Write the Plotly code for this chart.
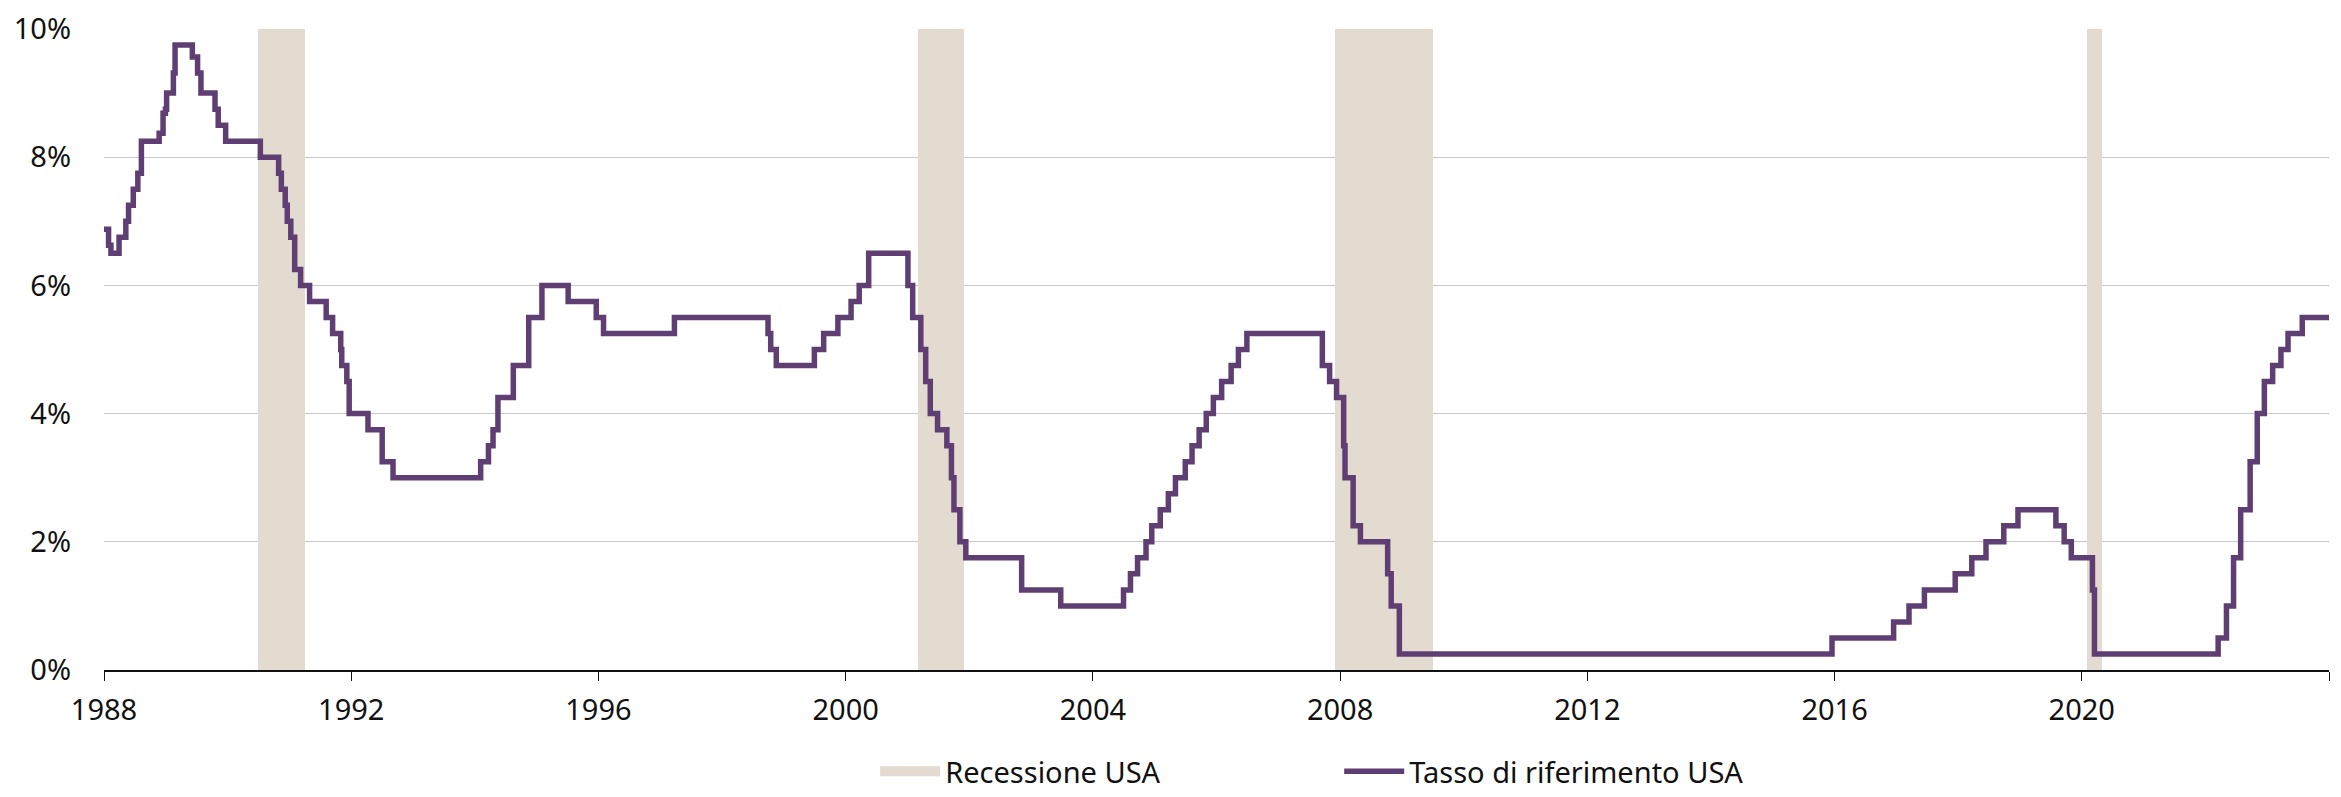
import plotly.graph_objects as go
import pandas as pd

# US policy rate (target, upper bound after 2008), step changes
rate_dates = [
    "1988-01-01", "1988-01-28", "1988-02-11", "1988-03-30", "1988-05-09", "1988-05-25",
    "1988-06-22", "1988-07-19", "1988-08-09", "1988-10-20", "1988-11-22", "1988-12-15",
    "1988-12-29", "1989-01-05", "1989-02-14", "1989-02-24", "1989-06-06", "1989-07-07",
    "1989-07-27", "1989-10-18", "1989-11-06", "1989-12-20", "1990-07-13", "1990-10-29",
    "1990-11-14", "1990-12-07", "1990-12-19", "1991-01-09", "1991-02-01", "1991-03-08",
    "1991-04-30", "1991-08-06", "1991-09-13", "1991-10-31", "1991-11-06", "1991-12-06",
    "1991-12-20", "1992-04-09", "1992-07-02", "1992-09-04", "1994-02-04", "1994-03-22",
    "1994-04-18", "1994-05-17", "1994-08-16", "1994-11-15", "1995-02-01", "1995-07-06",
    "1995-12-19", "1996-01-31", "1997-03-25", "1998-09-29", "1998-10-15", "1998-11-17",
    "1999-06-30", "1999-08-24", "1999-11-16", "2000-02-02", "2000-03-21", "2000-05-16",
    "2001-01-03", "2001-01-31", "2001-03-20", "2001-04-18", "2001-05-15", "2001-06-27",
    "2001-08-21", "2001-09-17", "2001-10-02", "2001-11-06", "2001-12-11", "2002-11-06",
    "2003-06-25", "2004-06-30", "2004-08-10", "2004-09-21", "2004-11-10", "2004-12-14",
    "2005-02-02", "2005-03-22", "2005-05-03", "2005-06-30", "2005-08-09", "2005-09-20",
    "2005-11-01", "2005-12-13", "2006-01-31", "2006-03-28", "2006-05-10", "2006-06-29",
    "2007-09-18", "2007-10-31", "2007-12-11", "2008-01-22", "2008-01-30", "2008-03-18",
    "2008-04-30", "2008-10-08", "2008-10-29", "2008-12-16", "2015-12-17", "2016-12-15",
    "2017-03-16", "2017-06-15", "2017-12-14", "2018-03-22", "2018-06-14", "2018-09-27",
    "2018-12-20", "2019-08-01", "2019-09-19", "2019-10-31", "2020-03-04", "2020-03-16",
    "2022-03-17", "2022-05-05", "2022-06-16", "2022-07-28", "2022-09-22", "2022-11-03",
    "2022-12-15", "2023-02-02", "2023-03-23", "2023-05-04", "2023-07-27", "2024-01-01",
]
rate_values = [
    6.875, 6.625, 6.5, 6.75, 7.0, 7.25,
    7.5, 7.75, 8.25, 8.25, 8.375, 8.6875,
    8.75, 9.0, 9.3125, 9.75, 9.5625, 9.3125,
    9.0, 8.75, 8.5, 8.25, 8.0, 7.75,
    7.5, 7.25, 7.0, 6.75, 6.25, 6.0,
    5.75, 5.5, 5.25, 5.0, 4.75, 4.5,
    4.0, 3.75, 3.25, 3.0, 3.25, 3.5,
    3.75, 4.25, 4.75, 5.5, 6.0, 5.75,
    5.5, 5.25, 5.5, 5.25, 5.0, 4.75,
    5.0, 5.25, 5.5, 5.75, 6.0, 6.5,
    6.0, 5.5, 5.0, 4.5, 4.0, 3.75,
    3.5, 3.0, 2.5, 2.0, 1.75, 1.25,
    1.0, 1.25, 1.5, 1.75, 2.0, 2.25,
    2.5, 2.75, 3.0, 3.25, 3.5, 3.75,
    4.0, 4.25, 4.5, 4.75, 5.0, 5.25,
    4.75, 4.5, 4.25, 3.5, 3.0, 2.25,
    2.0, 1.5, 1.0, 0.25, 0.5, 0.75,
    1.0, 1.25, 1.5, 1.75, 2.0, 2.25,
    2.5, 2.25, 2.0, 1.75, 1.25, 0.25,
    0.5, 1.0, 1.75, 2.5, 3.25, 4.0,
    4.5, 4.75, 5.0, 5.25, 5.5, 5.5,
]

# US recessions (NBER)
rec_start = ["1990-07-01", "2001-03-01", "2007-12-01", "2020-02-01"]
rec_end = ["1991-04-01", "2001-12-01", "2009-07-01", "2020-05-01"]

y_ticks = [0, 2, 4, 6, 8, 10]
y_labels = [f"{v}%" for v in y_ticks]
x_range = ["1988-01-01", "2024-01-01"]

PURPLE = "#5f3f73"
BEIGE = "#e3dad0"
FONT = "Noto Sans, Open Sans, sans-serif"

starts = pd.to_datetime(rec_start)
ends = pd.to_datetime(rec_end)
mids = starts + (ends - starts) / 2
widths = [(e - s).total_seconds() * 1000 for s, e in zip(starts, ends)]

fig = go.Figure()

fig.add_trace(go.Bar(
    x=mids, y=[max(y_ticks)] * len(mids), width=widths,
    marker=dict(color=BEIGE, line=dict(width=0)),
    showlegend=False, hoverinfo="skip",
))
# legend entry for the shading
fig.add_trace(go.Scatter(
    x=[None], y=[None], mode="lines", name="Recessione USA",
    line=dict(color=BEIGE, width=16),
))
fig.add_trace(go.Scatter(
    x=pd.to_datetime(rate_dates), y=rate_values, mode="lines",
    line=dict(color=PURPLE, width=5.5, shape="hv"),
    name="Tasso di riferimento USA",
))

# page body adds an 8px offset, so the figure is sized to fill the rest
fig.update_layout(
    width=2333, height=789,
    margin=dict(l=96, r=12, t=21, b=127),
    paper_bgcolor="white", plot_bgcolor="white",
    font=dict(family=FONT, size=29, color="#111111"),
    bargap=0,
    legend=dict(
        orientation="h", x=0.3466, xanchor="left",
        yref="container", y=0, yanchor="bottom",
        entrywidth=389, entrywidthmode="pixels",
        itemwidth=60, font=dict(size=29),
        bgcolor="rgba(0,0,0,0)",
    ),
    showlegend=True,
)
fig.update_xaxes(
    type="date", range=x_range, automargin=False,
    tick0="1988-01-01", dtick="M48", tickformat="%Y",
    showgrid=False, showline=True, linecolor="#111111", linewidth=1.5,
    ticks="outside", ticklen=9, tickwidth=1.2, tickcolor="#111111",
    ticklabelstandoff=4,
)
fig.update_yaxes(
    range=[0, 10], tickvals=y_ticks, ticktext=y_labels, automargin=False,
    showgrid=True, gridcolor="#c8c8c8", gridwidth=1.2,
    zeroline=False, showline=False, ticks="",
    ticklabelstandoff=32,
)

fig.write_html("out.html")
